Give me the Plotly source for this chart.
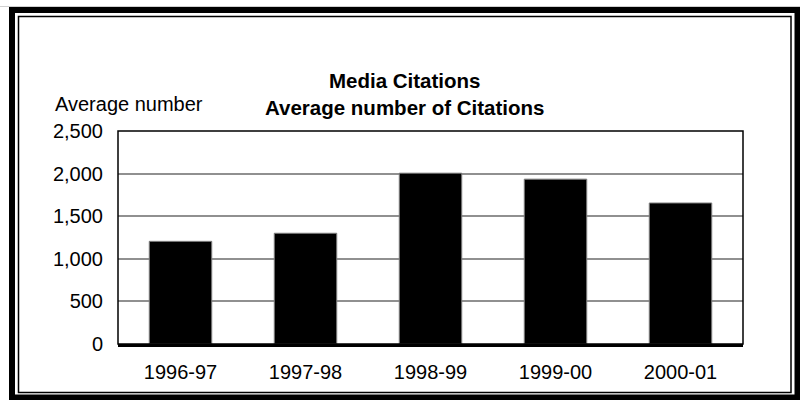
import plotly.graph_objects as go

categories = ["1996-97", "1997-98", "1998-99", "1999-00", "2000-01"]
values = [1205, 1300, 2005, 1935, 1655]
y_ticks = [0, 500, 1000, 1500, 2000, 2500]
y_tick_labels = ["0", "500", "1,000", "1,500", "2,000", "2,500"]

W, H = 800, 400
L, R, T, B = 118, 743, 131, 344  # plot area pixels

def px(x):
    return (x - L) / (R - L)

def py(y):
    return (B - y) / (B - T)

fig = go.Figure(go.Bar(
    x=categories, y=values,
    marker=dict(color="black", line=dict(color="#808080", width=1)),
))

shapes = [
    # faint top line
    dict(type="line", xref="paper", yref="paper",
         x0=px(0), x1=px(800), y0=py(6.5), y1=py(6.5),
         line=dict(color="#d0d0d0", width=1)),
    # outer thick frame
    dict(type="rect", xref="paper", yref="paper",
         x0=px(12), x1=px(797.5), y0=py(397.5), y1=py(10),
         line=dict(color="black", width=6), fillcolor="rgba(0,0,0,0)", layer="above"),
    # inner thin frame
    dict(type="rect", xref="paper", yref="paper",
         x0=px(18.5), x1=px(791), y0=py(392.5), y1=py(16.5),
         line=dict(color="black", width=1.5), fillcolor="rgba(0,0,0,0)", layer="above"),
    # plot area border
    dict(type="rect", xref="paper", yref="paper",
         x0=0, x1=1, y0=0, y1=1,
         line=dict(color="black", width=1.5), fillcolor="rgba(0,0,0,0)", layer="above"),
]

fig.update_layout(
    width=W, height=H,
    margin=dict(l=L, r=W - R, t=T, b=H - B, autoexpand=False),
    paper_bgcolor="white", plot_bgcolor="white",
    bargap=0.5,
    showlegend=False,
    font=dict(family="Liberation Sans, Arial", size=20, color="black"),
    shapes=shapes,
    annotations=[
        dict(text="<b>Media Citations</b><br><b>Average number of Citations</b>",
             xref="paper", yref="paper", x=px(404), y=py(94), xanchor="center", yanchor="middle",
             showarrow=False, font=dict(size=20.5), align="center"),
        dict(text="Average number", xref="paper", yref="paper", x=px(53), y=py(104),
             xanchor="left", yanchor="middle", showarrow=False, font=dict(size=20)),
    ],
    xaxis=dict(type="category", showgrid=False, ticks="", showline=True, linecolor="black",
               linewidth=2.5, tickfont=dict(size=20), ticklabelstandoff=8),
    yaxis=dict(range=[0, 2500], tickvals=y_ticks, ticktext=y_tick_labels,
               showgrid=True, gridcolor="#909090", gridwidth=1.5,
               showline=False, zeroline=False, ticks="", tickfont=dict(size=20),
               ticklabelstandoff=14),
)

fig.write_html("out.html")
